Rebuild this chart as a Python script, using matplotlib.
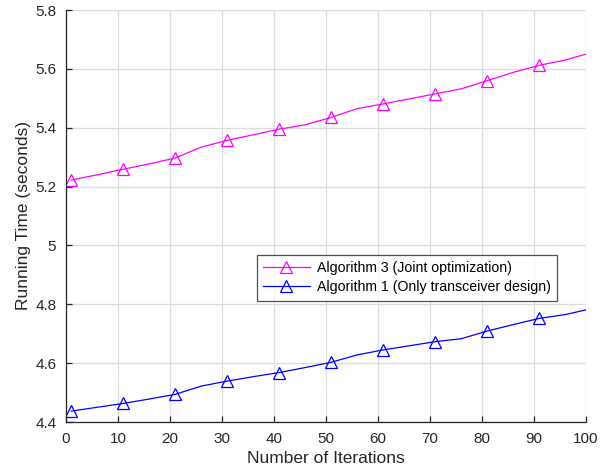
import matplotlib
matplotlib.use("Agg")
import matplotlib.pyplot as plt

iterations = [1, 6, 11, 16, 21, 26, 31, 36, 41, 46, 51, 56, 61, 66, 71, 76, 81, 86, 91, 96, 100]
alg3_time = [5.222, 5.240, 5.259, 5.277, 5.297, 5.334, 5.357, 5.376, 5.395, 5.410, 5.435,
             5.465, 5.481, 5.498, 5.515, 5.532, 5.560, 5.588, 5.612, 5.630, 5.650]
alg1_time = [4.437, 4.450, 4.463, 4.478, 4.494, 4.522, 4.539, 4.554, 4.568, 4.585, 4.603,
             4.628, 4.645, 4.659, 4.673, 4.683, 4.709, 4.731, 4.752, 4.765, 4.781]
labels = ["Algorithm 3 (Joint optimization)", "Algorithm 1 (Only transceiver design)"]
marker_idx = list(range(0, 20, 2))
xticks = list(range(0, 101, 10))
yticks = [4.4, 4.6, 4.8, 5.0, 5.2, 5.4, 5.6, 5.8]

plt.rcParams['font.family'] = ['Liberation Sans', 'DejaVu Sans']
fig = plt.figure(figsize=(6.11, 4.72), dpi=100)
ax = fig.add_axes([66/611, 1-422/472, 520/611, 412/472])

ax.plot(iterations, alg3_time, color='#ff00ff', lw=0.9, marker='^', markevery=marker_idx,
        markersize=8.5, markerfacecolor='none', markeredgewidth=0.9, label=labels[0])
ax.plot(iterations, alg1_time, color='#0000ff', lw=0.9, marker='^', markevery=marker_idx,
        markersize=8.5, markerfacecolor='none', markeredgewidth=0.9, label=labels[1])

ax.set_xlim(0, 100)
ax.set_ylim(4.4, 5.8)
ax.set_xticks(xticks)
ax.set_yticks(yticks)
ax.set_yticklabels([f"{v:g}" for v in yticks])
ax.grid(True, color='#dcdcdc', lw=0.9)
ax.set_axisbelow(True)
for s in ['top', 'right']:
    ax.spines[s].set_visible(False)
for s in ['left', 'bottom']:
    ax.spines[s].set_color('#262626')
    ax.spines[s].set_linewidth(0.9)
ax.tick_params(direction='in', length=4, width=0.9, color='#262626',
               labelcolor='#262626', labelsize=11, pad=7)
ax.set_xlabel("Number of Iterations", fontsize=12.5, color='#262626', labelpad=4)
ax.set_ylabel("Running Time (seconds)", fontsize=12.5, color='#262626', labelpad=3)

leg = ax.legend(loc='upper right', bbox_to_anchor=((557-66)/520, (422-255)/412),
                fontsize=10.2, frameon=True, fancybox=False, borderpad=0.45,
                labelspacing=0.35, handlelength=3.3, handletextpad=0.5, borderaxespad=0)
leg.get_frame().set_edgecolor('#262626')
leg.get_frame().set_linewidth(0.9)
for t in leg.get_texts():
    t.set_color('#000000')

fig.savefig('out.png', dpi=100)
